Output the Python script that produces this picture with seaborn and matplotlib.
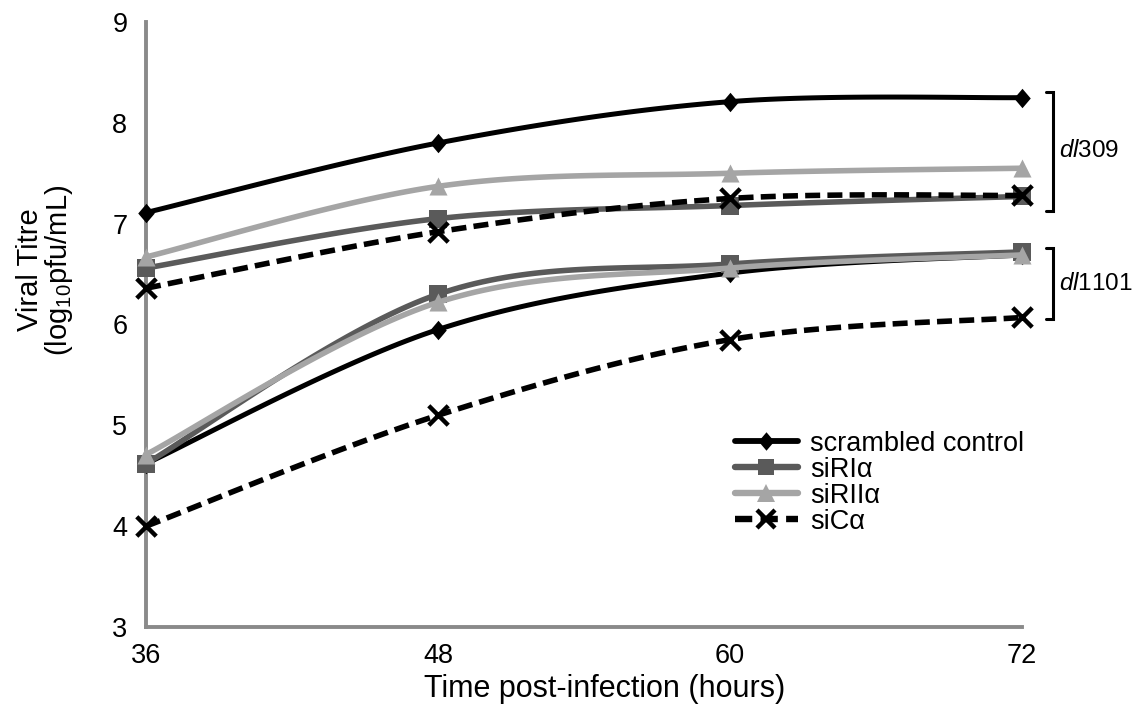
import numpy as np
import pandas as pd
import matplotlib
matplotlib.use("Agg")
import matplotlib.pyplot as plt
import seaborn as sns
from matplotlib.lines import Line2D

# ---------------- data ----------------
hours = [36, 48, 60, 72]
treatments = ["scrambled control", "siRIα", "siRIIα", "siCα"]

dl309_scrambled = [7.11, 7.80, 8.21, 8.25]
dl309_siRIa = [6.56, 7.05, 7.18, 7.27]
dl309_siRIIa = [6.67, 7.37, 7.50, 7.55]
dl309_siCa = [6.36, 6.92, 7.25, 7.28]

dl1101_scrambled = [4.62, 5.95, 6.51, 6.69]
dl1101_siRIa = [4.62, 6.30, 6.60, 6.72]
dl1101_siRIIa = [4.71, 6.22, 6.56, 6.69]
dl1101_siCa = [4.00, 5.10, 5.85, 6.07]

virus_labels = ["309", "1101"]

series = {
    ("309", "scrambled control"): dl309_scrambled,
    ("309", "siRIα"): dl309_siRIa,
    ("309", "siRIIα"): dl309_siRIIa,
    ("309", "siCα"): dl309_siCa,
    ("1101", "scrambled control"): dl1101_scrambled,
    ("1101", "siRIα"): dl1101_siRIa,
    ("1101", "siRIIα"): dl1101_siRIIa,
    ("1101", "siCα"): dl1101_siCa,
}

rows = []
for (v, t), vals in series.items():
    for h, y in zip(hours, vals):
        rows.append({"virus": v, "treatment": t, "hours": h, "titre": y})
df = pd.DataFrame(rows)

# ---------------- style ----------------
sns.set_theme(style="white")
plt.rcParams["font.family"] = ["Liberation Sans", "DejaVu Sans"]
plt.rcParams["mathtext.fontset"] = "custom"
plt.rcParams["mathtext.rm"] = "Liberation Sans"
plt.rcParams["mathtext.it"] = "Liberation Sans:italic"
plt.rcParams["text.color"] = "black"
plt.rcParams["axes.labelcolor"] = "black"

DIAMOND = [(0, 1), (0.85, 0), (0, -1), (-0.85, 0), (0, 1)]

styles = {
    "scrambled control": dict(color="#000000", lw=3.6, ls="-", marker=DIAMOND, ms=14, mew=0),
    "siRIα": dict(color="#5a5a5a", lw=4.0, ls="-", marker="s", ms=12.5, mew=0),
    "siRIIα": dict(color="#a5a5a5", lw=4.0, ls="-", marker="^", ms=13, mew=0),
    "siCα": dict(color="#000000", lw=4.0, ls=(0, (2.7, 1.3)), marker="x", ms=14, mew=3.2),
}

AX_GRAY = "#8a8a8a"


def smooth(x, y, n=40):
    """Excel-like smoothed line (Catmull-Rom Bezier) through the data points."""
    x = np.asarray(x, float)
    y = np.asarray(y, float)
    px = np.concatenate([[x[0]], x, [x[-1]]])
    py = np.concatenate([[y[0]], y, [y[-1]]])
    xs, ys = [], []
    t = np.linspace(0, 1, n)
    for i in range(1, len(px) - 2):
        p0 = np.array([px[i], py[i]])
        p3 = np.array([px[i + 1], py[i + 1]])
        c1 = p0 + (np.array([px[i + 1], py[i + 1]]) - np.array([px[i - 1], py[i - 1]])) / 6
        c2 = p3 - (np.array([px[i + 2], py[i + 2]]) - np.array([px[i], py[i]])) / 6
        b = ((1 - t) ** 3)[:, None] * p0 + (3 * (1 - t) ** 2 * t)[:, None] * c1 \
            + (3 * (1 - t) * t ** 2)[:, None] * c2 + (t ** 3)[:, None] * p3
        xs.extend(b[:, 0])
        ys.extend(b[:, 1])
    return np.array(xs), np.array(ys)


fig = plt.figure(figsize=(11.38, 7.13), dpi=100)
ax = fig.add_axes([146 / 1138, 1 - 627 / 713, (1022 - 146) / 1138, (627 - 22) / 713])

z = 3
for v in virus_labels:
    for t in treatments:
        sub = df[(df.virus == v) & (df.treatment == t)].sort_values("hours")
        st = styles[t]
        xs, ys = smooth(sub.hours.values, sub.titre.values)
        sns.lineplot(x=xs, y=ys, ax=ax, color=st["color"], linewidth=st["lw"],
                     linestyle=st["ls"], sort=False, estimator=None,
                     zorder=z, clip_on=False, solid_capstyle="round", dash_capstyle="butt")
        if st["marker"] == "x":
            sns.scatterplot(data=sub, x="hours", y="titre", ax=ax, marker="x",
                            color=st["color"], s=st["ms"] ** 2, linewidth=st["mew"],
                            zorder=z + 0.5, clip_on=False, legend=False)
        else:
            sns.scatterplot(data=sub, x="hours", y="titre", ax=ax, marker=st["marker"],
                            color=st["color"], s=st["ms"] ** 2, linewidth=0,
                            zorder=z + 0.5, clip_on=False, legend=False)
        z += 1

ax.set_xlim(36, 72)
ax.set_ylim(3, 9)
ax.set_xticks(hours)
ax.set_yticks(range(3, 10))
ax.tick_params(axis="both", which="major", direction="out", length=7.5, width=2.6,
               color=AX_GRAY, labelsize=19.5, labelcolor="black")
ax.tick_params(axis="y", pad=6)
ax.tick_params(axis="x", pad=4)
for side in ["top", "right"]:
    ax.spines[side].set_visible(False)
for side in ["left", "bottom"]:
    ax.spines[side].set_color(AX_GRAY)
    ax.spines[side].set_linewidth(2.8)

ax.set_xlabel("Time post-infection (hours)", fontsize=22)
ax.xaxis.set_label_coords((605 - 146) / 876, -0.078)
ax.xaxis.label.set_va("top")
ax.set_ylabel("Viral Titre\n(log$_{10}$pfu/mL)", fontsize=21, linespacing=0.95)
ax.yaxis.set_label_coords(-0.081, 0.59)

# brackets for the two virus groups
bx = 73.28
for (ytop, ybot), v in zip([(8.31, 7.13), (6.76, 6.05)], virus_labels):
    ax.plot([bx - 0.3, bx, bx, bx - 0.3], [ytop, ytop, ybot, ybot], color="black",
            lw=2.2, clip_on=False, solid_joinstyle="miter")
    ax.text(bx + 0.25, (ytop + ybot) / 2, r"$\it{dl}$" + v, fontsize=17.5,
            ha="left", va="center", clip_on=False)

handles = [Line2D([0], [0], color=styles[t]["color"], lw=styles[t]["lw"] + 0.6,
                  ls=styles[t]["ls"], marker=styles[t]["marker"], ms=styles[t]["ms"] * 0.95,
                  mew=styles[t]["mew"], markeredgecolor=styles[t]["color"],
                  dash_capstyle="butt")
           for t in treatments]
ax.legend(handles, treatments, loc="upper left", bbox_to_anchor=(721 / 1138, 1 - 417 / 713),
          bbox_transform=fig.transFigure, frameon=False, fontsize=19.5,
          handlelength=2.35, handletextpad=0.45, labelspacing=0.0, borderpad=0)

fig.savefig("out.png", dpi=100)
